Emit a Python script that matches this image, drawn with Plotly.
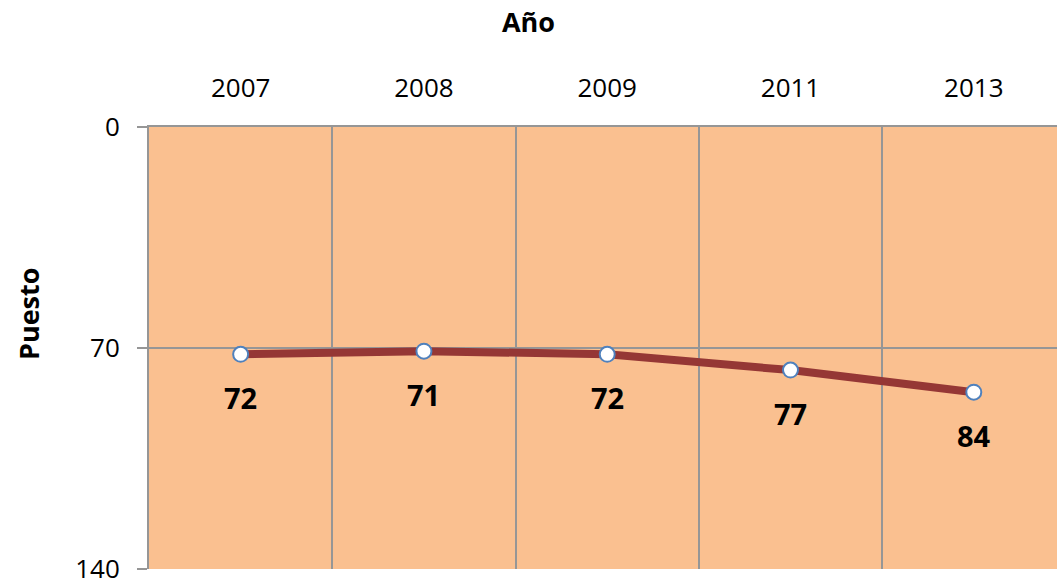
import plotly.graph_objects as go

years = ["2007", "2008", "2009", "2011", "2013"]
puesto = [72, 71, 72, 77, 84]
y_ticks = [0, 70, 140]

grid = "#969696"
fig = go.Figure()
fig.add_trace(go.Scatter(
    x=years, y=puesto, mode="lines+markers",
    line=dict(color="#953735", width=8),
    marker=dict(size=15, color="white", line=dict(color="#4F81BD", width=2)),
    hoverinfo="skip", showlegend=False,
))
for i, yv in enumerate(puesto):
    fig.add_annotation(x=i, y=yv, xref="x", yref="y", text=f"<b>{yv}</b>",
                       showarrow=False, yshift=-43,
                       font=dict(size=29, color="black", family="Open Sans"))

# y-axis title
fig.add_annotation(x=-0.1333, y=0.579, xref="paper", yref="paper", text="<b>Puesto</b>",
                   textangle=-90, showarrow=False, xanchor="center", yanchor="middle",
                   font=dict(size=27, color="black", family="Open Sans"))

fig.update_layout(
    width=1057, height=586,
    margin=dict(l=149, r=0, t=127, b=15),
    paper_bgcolor="white", plot_bgcolor="#FAC090",
    font=dict(family="Open Sans", color="black"),
    title=dict(text="<b>Año</b>", x=0.5, xref="container", y=0.962, yanchor="middle",
               font=dict(size=27, family="Open Sans")),
    xaxis=dict(side="top", type="category", range=[-0.5, 4.454],
               tickson="boundaries", showgrid=True, gridcolor=grid, gridwidth=2,
               ticks="", tickfont=dict(size=26), showline=True, linecolor=grid, linewidth=2,
               ticklabelstandoff=18, zeroline=False),
    yaxis=dict(range=[140, 0], tickvals=y_ticks, showgrid=True, gridcolor=grid, gridwidth=2,
               ticks="outside", ticklen=10, tickcolor=grid, tickwidth=2,
               showline=True, linecolor=grid, linewidth=2, tickfont=dict(size=26),
               ticklabelstandoff=12, ticklabeloverflow="allow", zeroline=False),
)
fig.write_html("out.html", config={"displayModeBar": False},
               post_script="document.body.style.margin='0';")
